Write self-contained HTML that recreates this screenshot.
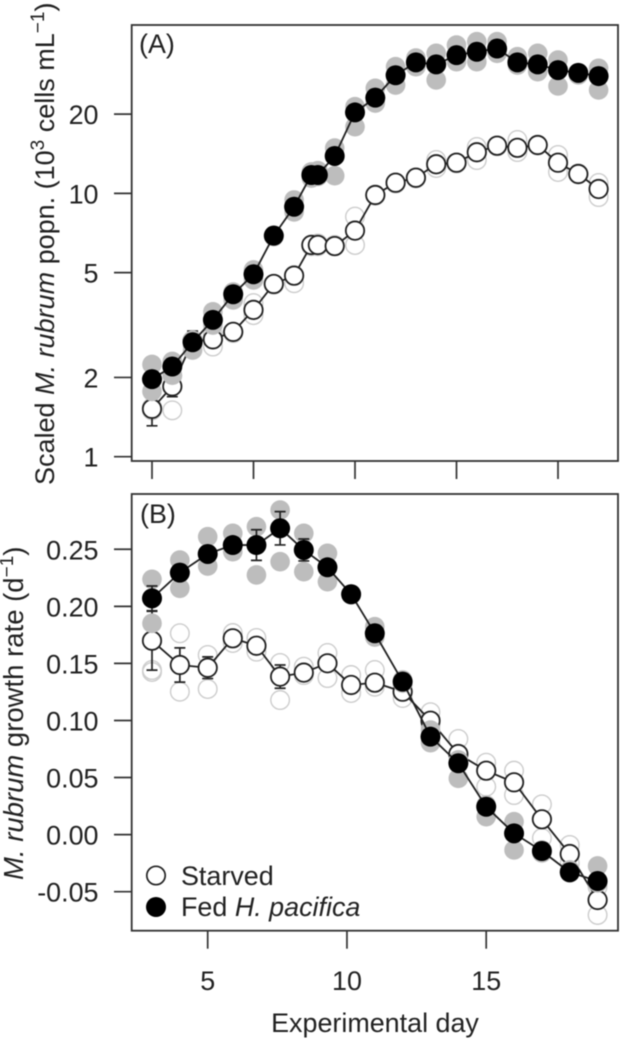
<!DOCTYPE html>
<html lang="en">
<head>
<meta charset="utf-8">
<title>M. rubrum population and growth rate</title>
<style>
html,body{margin:0;padding:0;background:#fff;}
svg{display:block;filter:blur(0.4px);}
text{font-family:"Liberation Sans",Arial,sans-serif;font-size:26.9px;fill:#222;}
</style>
</head>
<body>
<svg id="chart" xmlns="http://www.w3.org/2000/svg" width="622" height="1041" viewBox="0 0 622 1041">
  <rect x="0" y="0" width="622" height="1041" fill="#fff"/>
  <g id="panelA"></g>
  <g id="panelB"></g>
  <rect x="131.7" y="25" width="486.3" height="436" fill="none" stroke="#333" stroke-width="1.8"/>
  <rect x="131.7" y="494" width="486.3" height="436.7" fill="none" stroke="#333" stroke-width="1.8"/>
  <text x="139" y="53">(A)</text>
  <text x="140" y="523">(B)</text>
  <text style="font-size:27px" transform="translate(54,485) rotate(-90)">Scaled <tspan font-style="italic">M. rubrum</tspan> popn. (10<tspan dy="-10" font-size="19">3</tspan><tspan dy="10"> cells mL</tspan><tspan dy="-10" font-size="19">−1</tspan><tspan dy="10">)</tspan></text>
  <text style="font-size:27.5px" transform="translate(23,880) rotate(-90)"><tspan font-style="italic">M. rubrum</tspan> growth rate (d<tspan dy="-10" font-size="19">−1</tspan><tspan dy="10">)</tspan></text>
  <text x="375" y="1032" text-anchor="middle">Experimental day</text>
  <g>
    <circle cx="156" cy="875.5" r="9.2" fill="#fff" stroke="#222" stroke-width="1.7"/>
    <text x="181" y="885">Starved</text>
    <circle cx="156" cy="907" r="10" fill="#000"/>
    <text x="181" y="916">Fed <tspan font-style="italic">H. pacifica</tspan></text>
  </g>
</svg>
<script>
// Panel A data (scaled population, 10^3 cells per mL)
const daysA = [0,1,2,3,4,5,6,7,7.85,8.17,9,10,11,12,13,14,15,16,17,18,19,20,21,22];
const fedMeanA = [1.97,2.20,2.72,3.31,4.14,4.93,6.91,8.9,11.75,11.75,13.87,20.3,23.1,28.1,31.45,30.9,33.5,34.5,35.5,31.45,30.9,29.4,28.7,27.9];
const fedHighA = [2.24,2.30,2.77,3.55,4.22,5.12,6.95,9.44,12.06,12.2,14.87,21.35,25.07,30.28,32.67,34.05,36.6,37.7,37.7,33.05,34.05,32.1,28.65,29.87];
const fedLowA = [1.77,2.04,2.54,3.16,3.94,4.69,6.85,8.5,11.44,11.6,11.67,17.92,22.04,25.8,30.28,26.96,31.64,31.64,34.05,30.73,28.98,25.58,28.17,24.7];
const fedErrA = [0,0,0.12,0,0,0,0,0,0,0,0,0,0,0,0,0,0,0,0,0,0,0,0,0];
const starvedMeanA = [1.52,1.85,2.75,2.79,2.98,3.61,4.53,4.87,6.37,6.37,6.31,7.22,9.86,10.98,11.47,12.9,13.08,14.33,15.18,14.9,15.27,13.08,11.85,10.39];
const starvedHighA = [1.54,2.03,2.77,2.9,2.98,3.83,4.53,4.9,6.4,6.45,6.37,8.16,9.9,11.0,11.5,13.39,13.1,15.0,15.2,15.95,15.3,13.99,11.9,10.95];
const starvedLowA = [1.5,1.5,2.66,2.62,2.95,3.45,4.5,4.56,6.3,6.3,6.3,6.37,9.8,10.9,11.4,12.49,13.0,13.39,15.1,14.36,15.2,12.06,11.8,9.69];
const starvedErrA = [0.21,0.16,0.25,0,0,0,0,0,0,0,0,0,0,0,0,0,0,0,0,0,0,0,0,0];
const xTicksA = [0,5,10,15,20];
const yTicksA = [1,2,5,10,20];

// Panel B data (growth rate, per day)
const daysB = [3,4,5,5.9,6.75,7.6,8.45,9.3,10.15,11,12,13,14,15,16,17,18,19];
const fedMeanB = [0.207,0.2295,0.2459,0.2537,0.2537,0.2684,0.2494,0.2342,0.2106,0.1764,0.134,0.0858,0.0625,0.0244,0.0011,-0.0144,-0.033,-0.0407];
const fedHighB = [0.2237,0.2406,0.261,0.264,0.2698,0.2844,0.264,0.2465,0.2108,0.1822,0.1355,0.0916,0.0654,0.0259,0.0113,-0.0135,-0.031,-0.0275];
const fedLowB = [0.1851,0.2158,0.2353,0.2479,0.2275,0.2391,0.2304,0.2216,0.21,0.1731,0.1328,0.0805,0.0493,0.0157,-0.0135,-0.0161,-0.0336,-0.0424];
const fedErrB = [0.0108,0,0,0,0.0134,0.0146,0.0096,0,0,0,0,0,0,0,0,0,0,0];
const starvedMeanB = [0.1699,0.1486,0.1462,0.172,0.1655,0.1384,0.1419,0.1501,0.1311,0.1331,0.1252,0.0998,0.0706,0.056,0.0458,0.0134,-0.017,-0.0573];
const starvedHighB = [0.1442,0.1764,0.1574,0.1766,0.1723,0.1504,0.1471,0.1591,0.1398,0.1442,0.1311,0.1072,0.0838,0.063,0.056,0.0265,-0.0091,-0.0457];
const starvedLowB = [0.1425,0.1252,0.1276,0.1679,0.1603,0.1179,0.1398,0.1372,0.1241,0.1296,0.1197,0.096,0.0697,0.042,0.0347,-0.003,-0.0249,-0.0704];
const starvedErrB = [0.0258,0.015,0.0095,0,0,0.0102,0,0,0,0,0,0,0,0,0,0,0,0];
const xTicksB = [5,10,15];
const yTicksB = [-0.05,0,0.05,0.10,0.15,0.20,0.25];

const NS = 'http://www.w3.org/2000/svg';
const INK = '#222';
const GREY_FILL = '#bdbdbd';
const GREY_RING = '#cdcdcd';

// Axis functions
function xA(d){ return 152 + 20.3 * d; }
function yA(v){ return 456.7 - 263.3 * Math.log10(v); }
function xB(d){ return 207.7 + 27.85 * (d - 5); }
function yB(v){ return 834.6 - 1141.3 * v; }

function make(parent, tag, props){
  const el = document.createElementNS(NS, tag);
  for (const k in props) el.setAttribute(k, props[k]);
  parent.appendChild(el);
  return el;
}

function drawSeries(parent, key, days, x, y, mean, high, low, err, filled){
  const layer = make(parent, 'g', {});
  
  

  [high, low].forEach(function(list){
    list.forEach(function(v, i){
      const rep = make(layer, 'circle', {cx: x(days[i]), cy: y(v),
        r: filled ? 9.8 : 9.3,
        fill: filled ? GREY_FILL : 'none',
        stroke: filled ? 'none' : GREY_RING,
        'stroke-width': 1.4});
      
      
    });
  });

  const pts = mean.map(function(v, i){ return x(days[i]) + ',' + y(v); }).join(' ');
  const line = make(layer, 'polyline', {points: pts, fill: 'none', stroke: INK, 'stroke-width': 1.8});
  
  

  err.forEach(function(e, i){
    if (!e) return;
    const cx = x(days[i]);
    const y1 = y(mean[i] + e);
    const y2 = y(mean[i] - e);
    const d = 'M' + cx + ' ' + y1 + 'V' + y2 + 'M' + (cx - 5.5) + ' ' + y1 + 'h11M' + (cx - 5.5) + ' ' + y2 + 'h11';
    const bar = make(layer, 'path', {d: d, fill: 'none', stroke: INK, 'stroke-width': 1.7});
    
    
  });

  mean.forEach(function(v, i){
    const pt = make(layer, 'circle', {cx: x(days[i]), cy: y(v),
      r: filled ? 10 : 9.2,
      fill: filled ? '#000' : '#fff',
      stroke: filled ? 'none' : INK,
      'stroke-width': 1.8});
    
    
  });
}

function drawXTicks(parent, key, ticks, x, yBase, showLabels){
  ticks.forEach(function(t){
    const tick = make(parent, 'line', {x1: x(t), x2: x(t), y1: yBase, y2: yBase + 18, stroke: '#333', 'stroke-width': 1.7});
    
    
    if (showLabels){
      const lab = make(parent, 'text', {x: x(t), y: 990, 'text-anchor': 'middle'});
      lab.textContent = String(t);
      
      
    }
  });
}

function drawYTicks(parent, key, ticks, y, fmt){
  ticks.forEach(function(t){
    const tick = make(parent, 'line', {x1: 114, x2: 131.7, y1: y(t), y2: y(t), stroke: '#333', 'stroke-width': 1.7});
    
    
    const lab = make(parent, 'text', {x: 98.5, y: y(t) + 10, 'text-anchor': 'end'});
    lab.textContent = fmt(t);
    
    
  });
}

const panelA = document.getElementById('panelA');
const panelB = document.getElementById('panelB');

drawXTicks(panelA, 'panel-a', xTicksA, xA, 461, false);
drawYTicks(panelA, 'panel-a', yTicksA, yA, function(t){ return String(t); });
drawSeries(panelA, 'starved-a', daysA, xA, yA, starvedMeanA, starvedHighA, starvedLowA, starvedErrA, false);
drawSeries(panelA, 'fed-a', daysA, xA, yA, fedMeanA, fedHighA, fedLowA, fedErrA, true);

drawXTicks(panelB, 'panel-b', xTicksB, xB, 930.7, true);
drawYTicks(panelB, 'panel-b', yTicksB, yB, function(t){ return t.toFixed(2); });
drawSeries(panelB, 'starved-b', daysB, xB, yB, starvedMeanB, starvedHighB, starvedLowB, starvedErrB, false);
drawSeries(panelB, 'fed-b', daysB, xB, yB, fedMeanB, fedHighB, fedLowB, fedErrB, true);
</script>
</body>
</html>
